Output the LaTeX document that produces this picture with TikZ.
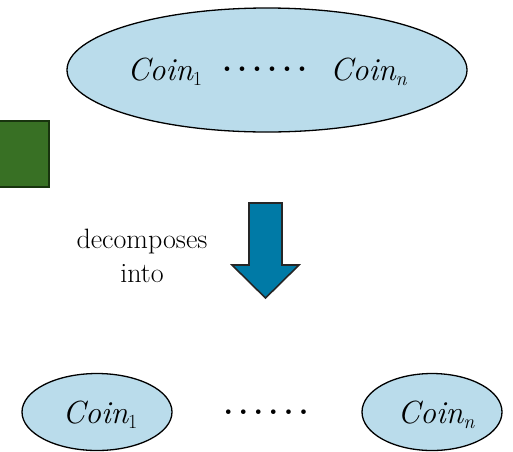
\documentclass[tikz,border=0pt]{standalone}
\usetikzlibrary{shapes.geometric}

\definecolor{coinblue}{RGB}{186,220,235}
\definecolor{arrowblue}{RGB}{0,122,166}
\definecolor{boxgreen}{RGB}{56,112,36}
\definecolor{boxedge}{RGB}{24,52,14}

\newcommand{\coin}[1]{{\itshape Coin}\raisebox{-5pt}{\fontsize{20}{20}\selectfont #1}}
\newcommand{\coindot}{{\fontsize{32}{32}\selectfont\bfseries .}}
\newcommand{\coindots}{\raisebox{8.5pt}{\coindot\kern5pt\coindot\kern5pt\coindot\kern5pt\coindot\kern5pt\coindot\kern5pt\coindot}}

\begin{document}
\begin{tikzpicture}[x=1pt, y=-1pt, line width=1.3pt,
    coinset/.style={ellipse, draw=black, fill=coinblue, inner sep=0pt},
    cointext/.style={anchor=base, inner sep=0pt, font=\fontsize{32}{38}\selectfont}]
   \useasboundingbox (0,0) rectangle (513,451);
   \begin{scope}[every node/.style={coinset}]
    \node[minimum width=400pt, minimum height=124pt] (whole) at (267,70) {};
    \node[minimum width=150pt, minimum height=77pt] (part1) at (97,412) {};
    \node[minimum width=140pt, minimum height=77pt] (partn) at (432,412) {};
   \end{scope}
   \begin{scope}[every node/.style={cointext}]
    \node (wholetext) at (267,80) {\coin{1}\hspace{20pt}\coindots\hspace{23pt}\coin{\itshape n}};
    \node (part1text) at (100,423) {\coin{1}};
    \node (partntext) at (436,423) {\coin{\itshape n}};
    \node (partdots) at (266,423) {\coindots};
   \end{scope}
   % green block on the left
   \draw[fill=boxgreen, draw=boxedge] (-5,121) rectangle (49,187);
   % block arrow
   \draw[fill=arrowblue, draw=black!85, line width=1.6pt]
     (249,203) -- (282,203) -- (282,265) -- (299,265) -- (265.5,298)
     -- (232,265) -- (249,265) -- cycle;
   \node[align=center, font=\fontsize{28}{34}\selectfont, inner sep=0pt] (decomp) at (142,256) {decomposes\\into};
\end{tikzpicture}
\end{document}
